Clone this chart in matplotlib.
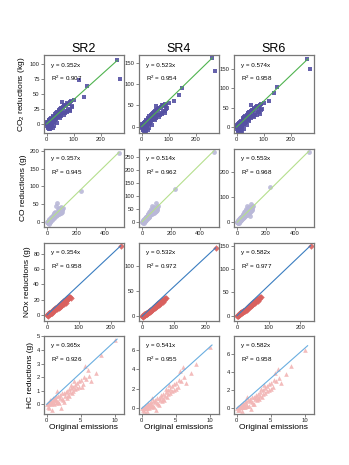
import matplotlib
matplotlib.use("Agg")
import matplotlib.pyplot as plt

plt.rcParams['font.family'] = ['Liberation Sans', 'DejaVu Sans']
plt.rcParams['mathtext.fontset'] = 'custom'
plt.rcParams['mathtext.rm'] = 'Liberation Sans'
plt.rcParams['mathtext.it'] = 'Liberation Sans:italic'

scenarios = ["SR2", "SR4", "SR6"]
row_labels = [r"$\mathregular{CO_2}$ reductions (kg)", "CO reductions (g)",
              "NOx reductions (g)", "HC reductions (g)"]

# ---------- CO2 ----------
x_co2 = [1, 2, 3, 4, 5, 6, 7, 8, 9, 10, 11, 12, 13, 14, 15, 16, 18, 19, 20, 22, 24, 25, 27, 28,
         30, 32, 34, 35, 37, 39, 40, 42, 45, 47, 50, 52, 55, 57, 60, 63, 66, 70, 74, 78, 82, 86,
         90, 95, 100, 120, 140, 150, 262, 271,
         3, 5, 8, 10, 12, 15, 17, 20, 23, 26, 29, 31, 33, 36, 38, 41, 44, 48, 51, 54, 58, 62, 65,
         68, 72, 76, 80, 85, 88, 92]
y_co2_sr2 = [0, -3, 2, -6, 3, -2, 5, -8, 1, 6, -5, 4, -9, 7, 2, -4, 9, 0, 5, -6, 12, 3, 8, -3,
             14, 6, 16, 9, 2, 18, 11, 20, 13, 24, 17, 26, 36, 20, 28, 15, 31, 22, 35, 25, 33, 21,
             38, 30, 40, 73, 45, 63, 106, 75,
             4, -5, 6, -2, 8, -7, 10, 1, 14, 4, 16, 7, 18, 10, 20, 12, 22, 10, 25, 14, 27, 18, 30,
             19, 32, 20, 34, 24, 36, 28]
y_co2_sr4 = [0, -4, 3, -8, 4, -3, 7, -11, 2, 9, -7, 6, -12, 10, 3, -5, 13, 1, 8, -8, 18, 5, 12, -4,
             21, 9, 24, 13, 4, 27, 16, 30, 19, 35, 25, 38, 48, 30, 41, 23, 45, 33, 50, 37, 48, 31,
             52, 44, 55, 60, 75, 90, 162, 132,
             6, -7, 9, -3, 12, -10, 15, 2, 21, 6, 24, 10, 27, 15, 30, 18, 33, 15, 37, 21, 40, 27, 44,
             28, 47, 30, 50, 36, 53, 41]
y_co2_sr6 = [0, -4, 3, -9, 5, -3, 8, -12, 2, 10, -8, 7, -13, 11, 4, -6, 14, 1, 9, -9, 20, 6, 13, -4,
             23, 10, 26, 14, 5, 30, 18, 33, 21, 38, 27, 42, 56, 33, 45, 26, 50, 36, 55, 41, 53, 35,
             60, 48, 62, 68, 88, 103, 175, 150,
             6, -8, 10, -3, 13, -11, 16, 2, 23, 7, 26, 11, 29, 16, 32, 19, 36, 16, 40, 23, 44, 29, 48,
             31, 52, 32, 55, 39, 58, 45]

# ---------- CO ----------
x_co = [1, 3, 5, 7, 9, 11, 13, 15, 17, 19, 21, 23, 25, 27, 30, 32, 35, 38, 40, 43, 46, 49, 52, 55,
        58, 61, 64, 67, 70, 73, 76, 80, 84, 88, 92, 96, 100, 105, 110, 230, 495,
        2, 6, 10, 14, 18, 22, 26, 29, 33, 37, 41, 45, 48, 53, 57, 62, 66, 71, 75, 78, 82, 86, 90,
        95, 98, 103]
y_co_sr2 = [0, -3, 4, -2, 6, 1, -4, 8, 3, 10, 2, 12, 5, 14, 7, 16, 10, 20, 12, 22, 14, 26, 17, 30,
            20, 45, 23, 55, 25, 38, 28, 40, 30, 35, 27, 42, 33, 38, 40, 88, 192,
            2, 1, 0, 3, 2, 5, 6, 12, 9, 15, 11, 18, 13, 22, 17, 25, 19, 30, 22, 35, 24, 32, 26,
            28, 36, 30]
y_co_sr4 = [0, -4, 5, -2, 8, 2, -5, 11, 4, 14, 3, 17, 7, 20, 10, 23, 14, 28, 17, 31, 20, 36, 24, 42,
            28, 50, 33, 60, 36, 52, 40, 55, 43, 50, 40, 70, 48, 56, 60, 125, 268,
            2, 1, 1, 5, 3, 8, 9, 18, 13, 22, 16, 27, 19, 32, 25, 37, 28, 44, 32, 51, 35, 47, 38,
            42, 53, 44]
y_co_sr6 = [0, -4, 6, -2, 9, 2, -5, 12, 4, 15, 3, 18, 8, 22, 11, 25, 15, 30, 18, 34, 22, 39, 26, 45,
            30, 54, 36, 65, 39, 56, 43, 60, 46, 54, 25, 75, 52, 60, 65, 140, 282,
            2, 1, 1, 5, 3, 9, 10, 19, 14, 24, 17, 29, 21, 35, 27, 40, 30, 47, 35, 55, 38, 51, 41,
            45, 57, 47]

# ---------- NOx ----------
x_nox = [1, 2, 3, 4, 5, 6, 7, 8, 9, 10, 11, 12, 13, 14, 15, 16, 18, 20, 22, 24, 26, 28, 30, 32, 34,
         36, 38, 40, 42, 44, 46, 48, 50, 52, 55, 58, 62, 66, 70, 75, 232,
         2, 4, 6, 8, 10, 13, 17, 19, 21, 25, 27, 31, 35, 39, 43, 47, 51, 54, 57, 60, 64, 68, 72]
y_nox_sr2 = [0, -1, 1, 0, 2, 1, 3, 1, 3, 2, 4, 2, 4, 3, 5, 3, 6, 5, 7, 6, 9, 7, 10, 8, 11,
             9, 13, 10, 14, 12, 15, 13, 17, 14, 18, 16, 19, 21, 23, 22, 91,
             0, 1, 2, 2, 3, 3, 5, 6, 6, 8, 9, 10, 12, 13, 15, 16, 18, 17, 20, 19, 22, 23, 24]
y_nox_sr4 = [0, -1, 1, 1, 2, 2, 4, 2, 4, 3, 5, 4, 6, 5, 7, 5, 8, 7, 10, 9, 12, 11, 14, 12, 16,
             14, 18, 16, 20, 18, 22, 20, 25, 22, 27, 25, 30, 29, 33, 36, 135,
             0, 1, 2, 3, 4, 5, 7, 8, 9, 11, 13, 15, 17, 19, 21, 24, 26, 26, 29, 28, 32, 34, 37]
y_nox_sr6 = [0, -1, 1, 1, 3, 2, 4, 3, 5, 4, 6, 5, 7, 6, 8, 6, 9, 8, 11, 10, 13, 12, 15, 13, 17,
             16, 20, 18, 22, 20, 25, 22, 27, 25, 30, 28, 33, 32, 36, 40, 150,
             0, 1, 2, 3, 4, 6, 8, 9, 10, 13, 14, 16, 19, 21, 24, 26, 29, 28, 32, 31, 35, 37, 41]

# ---------- HC ----------
x_hc = [0.1, 0.2, 0.3, 0.4, 0.5, 0.6, 0.7, 0.8, 0.9, 1.0, 1.1, 1.2, 1.3, 1.4, 1.5, 1.6, 1.7, 1.8,
        2.0, 2.1, 2.3, 2.5, 2.6, 2.8, 3.0, 3.2, 3.3, 3.5, 3.7, 3.8, 4.0, 4.2, 4.5, 4.8, 5.0, 5.3,
        5.6, 5.8, 6.0, 6.2, 6.5, 7.2, 8.0, 10.0,
        0.15, 0.35, 0.55, 0.75, 0.95, 1.15, 1.35, 1.55, 1.9, 2.2, 2.4, 2.7, 2.9, 3.1, 3.4, 3.6,
        3.9, 4.1, 4.4, 4.7, 5.1, 5.5]
y_hc_sr2 = [0.0, -0.2, 0.1, -0.3, 0.2, 0.0, 0.3, -0.4, 0.2, 0.4, 0.0, 0.5, 0.1, 0.3, 1.0, 0.2, 0.6,
            0.1, 0.7, -0.3, 0.4, 0.8, 0.2, 0.9, 0.5, 1.1, 0.6, 1.2, 0.8, 1.3, 1.7, 1.1, 1.6, 1.3,
            1.8, 1.5, 2.8, 1.9, 2.5, 2.1, 1.7, 2.3, 3.6, 4.7,
            0.1, 0.0, 0.3, 0.1, 0.5, 0.3, 0.6, 0.2, 0.5, 0.8, 0.3, 0.6, 1.0, 0.7, 0.9, 1.4,
            1.0, 1.4, 1.2, 1.7, 1.3, 2.0]
y_hc_sr4 = [0.0, -0.2, 0.1, -0.3, 0.2, 0.1, 0.3, -0.3, 0.3, 0.5, 0.1, 0.6, 0.2, 0.4, 1.1, 0.3, 0.8,
            0.2, 0.9, -0.2, 0.6, 1.1, 0.4, 1.2, 0.8, 1.5, 0.9, 1.7, 1.2, 1.9, 2.4, 1.6, 2.3, 1.9,
            2.6, 2.2, 3.8, 2.8, 4.2, 3.2, 2.6, 3.6, 4.6, 6.3,
            0.1, 0.0, 0.3, 0.1, 0.6, 0.4, 0.7, 0.3, 0.7, 1.1, 0.5, 0.9, 1.4, 1.0, 1.3, 2.0,
            1.5, 2.0, 1.8, 2.5, 2.0, 2.9]
y_hc_sr6 = [0.0, -0.2, 0.1, -0.2, 0.2, 0.1, 0.4, -0.3, 0.3, 0.5, 0.2, 0.7, 0.2, 0.5, 1.2, 0.3, 0.9,
            0.3, 1.0, -0.1, 0.7, 1.2, 0.5, 1.3, 0.9, 1.6, 1.0, 1.8, 1.3, 2.0, 2.6, 1.7, 2.5, 2.0,
            2.8, 2.4, 3.9, 3.0, 4.3, 3.3, 2.8, 3.8, 4.7, 6.4,
            0.1, 0.0, 0.3, 0.2, 0.6, 0.4, 0.8, 0.3, 0.8, 1.2, 0.5, 1.0, 1.5, 1.1, 1.4, 2.1,
            1.6, 2.2, 1.9, 2.7, 2.1, 3.1]

slopes = [[0.352, 0.523, 0.574], [0.357, 0.514, 0.553], [0.354, 0.532, 0.582], [0.365, 0.541, 0.582]]
r2 = [[0.907, 0.954, 0.958], [0.945, 0.962, 0.968], [0.958, 0.972, 0.977], [0.926, 0.955, 0.958]]

# end points of the fitted lines as drawn
line_end_x = [[262, 262, 265], [495, 495, 495], [232, 232, 232], [10.3, 10.3, 10.4]]
line_end_y = [[106, 162, 176], [195, 272, 285], [91, 135, 150], [4.8, 6.5, 6.9]]

xs = [x_co2, x_co, x_nox, x_hc]
ys = [[y_co2_sr2, y_co2_sr4, y_co2_sr6], [y_co_sr2, y_co_sr4, y_co_sr6],
      [y_nox_sr2, y_nox_sr4, y_nox_sr6], [y_hc_sr2, y_hc_sr4, y_hc_sr6]]

point_colors = ["#5551a3", "#b9b8d8", "#d9605e", "#f2b5b5"]
line_colors = ["#4fb34f", "#b5df8d", "#3a7dc0", "#6aaee0"]
markers = ["s", "o", "D", "^"]
msizes = [10, 12, 11, 11]

xlims = [(-10, 286), (-23, 530), (-10, 242), (-0.4, 11.3)]
xticks = [[0, 100, 200], [0, 200, 400], [0, 100, 200], [0, 5, 10]]
ylims = [[(-15, 115), (-15, 169), (-15, 186)],
         [(-13, 205), (-20, 280), (-19, 295)],
         [(-8, 95), (-9, 145), (-11, 156)],
         [(-0.7, 5.05), (-0.55, 7.45), (-0.6, 8.0)]]
yticks = [[[0, 25, 50, 75, 100], [0, 50, 100, 150], [0, 50, 100, 150]],
          [[0, 50, 100, 150, 200], [0, 50, 100, 150, 200, 250], [0, 100, 200]],
          [[0, 20, 40, 60, 80], [0, 50, 100], [0, 50, 100, 150]],
          [[0, 1, 2, 3, 4, 5], [0, 2, 4, 6], [0, 2, 4, 6]]]

fig = plt.figure(figsize=(3.49, 4.65), dpi=100)
lefts = [0.126, 0.398, 0.670]
bottoms = [0.714, 0.512, 0.310, 0.110]
w, h = 0.229, 0.168

for r in range(4):
    for c in range(3):
        ax = fig.add_axes([lefts[c], bottoms[r], w, h])
        ax.scatter(xs[r], ys[r][c], s=msizes[r], marker=markers[r], color=point_colors[r],
                   linewidths=0, alpha=0.9, zorder=2)
        ax.plot([0, line_end_x[r][c]], [0, line_end_y[r][c]], color=line_colors[r], lw=0.8, zorder=3)
        ax.set_xlim(xlims[r])
        ax.set_ylim(ylims[r][c])
        ax.set_xticks(xticks[r])
        ax.set_yticks(yticks[r][c])
        for s in ax.spines.values():
            s.set_color("#777777")
            s.set_linewidth(0.9)
        ax.tick_params(labelsize=4.2, length=2, width=0.5, color="#555555", pad=1,
                       labelcolor="#222222")
        ax.text(0.09, 0.87, "y = %.3fx" % slopes[r][c], transform=ax.transAxes, fontsize=4.5,
                va="center")
        ax.text(0.09, 0.70, "R$^2$ = %.3f" % r2[r][c], transform=ax.transAxes, fontsize=4.5,
                va="center")
        if r == 0:
            ax.set_title(scenarios[c], fontsize=9, pad=2)
        if c == 0:
            ax.set_ylabel(row_labels[r], fontsize=6, labelpad=2)
        if r == 3:
            ax.set_xlabel("Original emissions", fontsize=6, labelpad=1)

fig.savefig("out.png", dpi=100)
